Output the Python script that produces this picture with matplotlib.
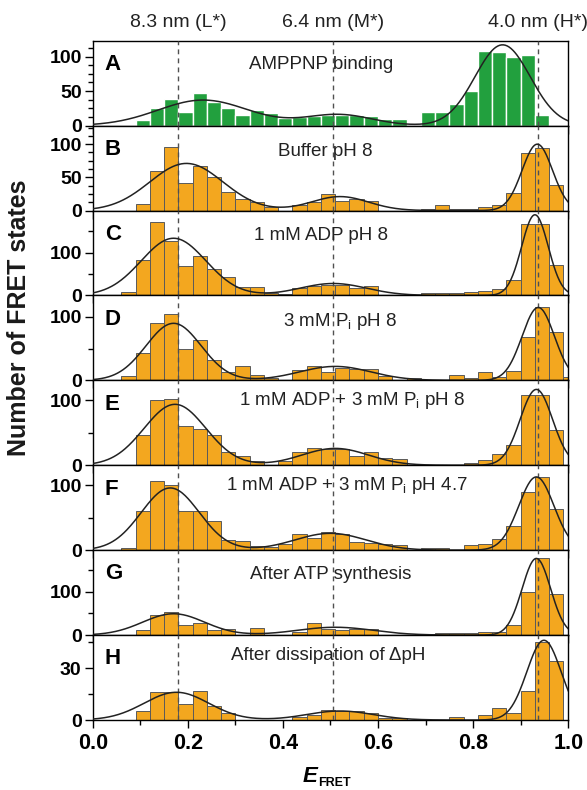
import numpy as np
import matplotlib
matplotlib.use("Agg")
import matplotlib.pyplot as plt
from matplotlib.ticker import MultipleLocator
import matplotlib.transforms as mtransforms

plt.rcParams['font.family'] = ['Liberation Sans', 'DejaVu Sans']

# --- data ---
# left edges of the 0.03 wide E_FRET bins
BIN_LEFT = [0.06, 0.09, 0.12, 0.15, 0.18, 0.21, 0.24, 0.27, 0.30, 0.33, 0.36,
            0.39, 0.42, 0.45, 0.48, 0.51, 0.54, 0.57, 0.60, 0.63, 0.66, 0.69,
            0.72, 0.75, 0.78, 0.81, 0.84, 0.87, 0.90, 0.93, 0.96, 0.99]
BIN_W = 0.03

counts_A = [0, 8, 26, 38, 20, 47, 34, 25, 15, 22, 18, 11, 12, 14, 15, 16,
            15, 14, 9, 9, 0, 20, 20, 31, 50, 108, 106, 100, 102, 16, 0, 0]
counts_B = [0, 10, 59, 96, 41, 67, 50, 28, 17, 13, 5, 0, 8, 13, 25, 15,
            18, 15, 0, 0, 0, 2, 8, 3, 2, 5, 9, 26, 87, 94, 38, 0]
counts_C = [7, 84, 173, 128, 68, 92, 62, 44, 19, 19, 6, 3, 17, 22, 25, 25,
            17, 23, 0, 0, 0, 5, 5, 5, 7, 11, 15, 35, 168, 168, 72, 0]
counts_D = [7, 43, 91, 104, 50, 64, 32, 13, 22, 9, 3, 0, 16, 23, 13, 20,
            18, 18, 7, 0, 4, 0, 0, 8, 4, 13, 5, 15, 69, 115, 77, 6]
counts_E = [0, 46, 101, 102, 61, 56, 47, 21, 14, 6, 0, 6, 21, 27, 25, 25,
            15, 21, 11, 10, 0, 0, 0, 0, 4, 8, 18, 31, 108, 108, 54, 0]
counts_F = [3, 60, 106, 101, 61, 60, 45, 15, 14, 7, 5, 10, 25, 19, 28, 25,
            13, 11, 9, 8, 0, 3, 3, 0, 8, 9, 17, 38, 90, 113, 64, 0]
counts_G = [0, 12, 46, 52, 23, 27, 12, 14, 0, 17, 0, 0, 8, 28, 14, 12,
            14, 15, 0, 0, 0, 3, 4, 4, 4, 8, 8, 23, 100, 178, 94, 0]
counts_H = [0, 5, 16, 16, 9, 17, 8, 4, 0, 0, 0, 0, 2, 3, 6, 5,
            5, 4, 1, 1, 0, 0, 0, 2, 0, 3, 7, 4, 17, 45, 34, 0]

# gaussian fits: (center, sigma, amplitude) for L*, M*, H*
fit_A = [(0.232, 0.095, 37), (0.517, 0.070, 16), (0.862, 0.058, 117)]
fit_B = [(0.197, 0.077, 71), (0.520, 0.060, 21), (0.935, 0.032, 100)]
fit_C = [(0.170, 0.068, 134), (0.506, 0.070, 28), (0.930, 0.028, 189)]
fit_D = [(0.170, 0.058, 90), (0.510, 0.075, 22), (0.937, 0.034, 115)]
fit_E = [(0.173, 0.065, 94), (0.510, 0.070, 26), (0.933, 0.034, 117)]
fit_F = [(0.163, 0.061, 96), (0.500, 0.075, 26), (0.933, 0.037, 113)]
fit_G = [(0.170, 0.065, 49), (0.510, 0.080, 18), (0.933, 0.030, 176)]
fit_H = [(0.176, 0.068, 16), (0.520, 0.070, 5.2), (0.949, 0.036, 46)]

letters = ["A", "B", "C", "D", "E", "F", "G", "H"]
titles = ["AMPPNP binding", "Buffer pH 8", "1 mM ADP pH 8",
          r"3 mM P$_\mathregular{i}$ pH 8",
          r"1 mM ADP + 3 mM P$_\mathregular{i}$ pH 8",
          r"1 mM ADP + 3 mM P$_\mathregular{i}$ pH 4.7",
          "After ATP synthesis", "After dissipation of \u0394pH"]
counts = [counts_A, counts_B, counts_C, counts_D, counts_E, counts_F, counts_G, counts_H]
fits = [fit_A, fit_B, fit_C, fit_D, fit_E, fit_F, fit_G, fit_H]

STATE_E = [0.18, 0.505, 0.937]
STATE_LBL = ["8.3 nm (L*)", "6.4 nm (M*)", "4.0 nm (H*)"]

# per panel layout: ylim top, major step, minor step, title x (data), title y (axes)
YTOP  = [123, 128, 199, 134, 131, 131, 195, 49]
MAJ   = [50, 50, 100, 100, 100, 100, 100, 30]
MINR  = [12.5, 12.5, 50, 50, 50, 50, 50, 15]
TX    = [0.48, 0.49, 0.48, 0.52, 0.545, 0.535, 0.50, 0.495]
TY    = [0.72, 0.70, 0.70, 0.69, 0.76, 0.76, 0.71, 0.76]

GREEN  = "#22a03e"
ORANGE = "#f3a71f"

fig = plt.figure(figsize=(5.87, 7.9), dpi=100)
gs = fig.add_gridspec(8, 1, left=0.158, right=0.968, top=0.9485, bottom=0.0886, hspace=0)

xs = np.linspace(0, 1, 500)
for i in range(8):
    ax = fig.add_subplot(gs[i])
    if i == 0:
        ax.bar(BIN_LEFT, counts[i], width=BIN_W, align="edge", color=GREEN,
               edgecolor="white", linewidth=1.0, zorder=2)
    else:
        ax.bar(BIN_LEFT, counts[i], width=BIN_W, align="edge", color=ORANGE,
               edgecolor="#5a5a5a", linewidth=0.7, zorder=2)

    fit = np.zeros_like(xs)
    for c, s, a in fits[i]:
        fit += a * np.exp(-(xs - c) ** 2 / (2 * s ** 2))
    ax.plot(xs, fit, color="#222222", lw=1.1, zorder=4)

    for e in STATE_E:
        ax.axvline(e, color="#505050", lw=1.0, ls=(0, (3.5, 3)), zorder=3)

    ax.set_xlim(0, 1.0)
    ax.set_ylim(0, YTOP[i])
    ax.xaxis.set_major_locator(MultipleLocator(0.2))
    ax.xaxis.set_minor_locator(MultipleLocator(0.1))
    ax.yaxis.set_major_locator(MultipleLocator(MAJ[i]))
    ax.yaxis.set_minor_locator(MultipleLocator(MINR[i]))
    ax.tick_params(axis="both", which="major", direction="out", length=6, width=1)
    ax.tick_params(axis="both", which="minor", direction="out", length=3.5, width=1)
    ax.tick_params(axis="y", labelsize=14, pad=2)
    ax.tick_params(axis="x", labelsize=15.5, pad=3)
    for lb in ax.get_yticklabels():
        lb.set_fontweight("bold")
    if i < 7:
        ax.tick_params(axis="x", labelbottom=False)
    else:
        for lb in ax.get_xticklabels():
            lb.set_fontweight("bold")
    for sp in ax.spines.values():
        sp.set_linewidth(1.0)

    ax.text(0.025, 0.72, letters[i], transform=ax.transAxes, fontsize=16,
            fontweight="bold", va="center", ha="left", zorder=5)
    trans = mtransforms.blended_transform_factory(ax.transData, ax.transAxes)
    ax.text(TX[i], TY[i], titles[i], transform=trans, fontsize=13.5,
            ha="center", va="center", color="#222222", zorder=5)

    if i == 0:
        for e, lbl in zip(STATE_E, STATE_LBL):
            ax.annotate(lbl, xy=(e, 1.0), xycoords=("data", "axes fraction"),
                        xytext=(0, 7), textcoords="offset points",
                        ha="center", va="bottom", fontsize=14, color="#222222")

fig.text(0.033, 0.598, "Number of FRET states", rotation=90, ha="center",
         va="center", fontsize=18, fontweight="bold", color="#1a1a1a")
fig.text(0.528, 0.017, "E", ha="center", va="center", fontsize=16,
         fontweight="bold", fontstyle="italic")
fig.text(0.542, 0.001, "FRET", ha="left", va="bottom", fontsize=9, fontweight="bold")

fig.savefig("out.png", dpi=100)
